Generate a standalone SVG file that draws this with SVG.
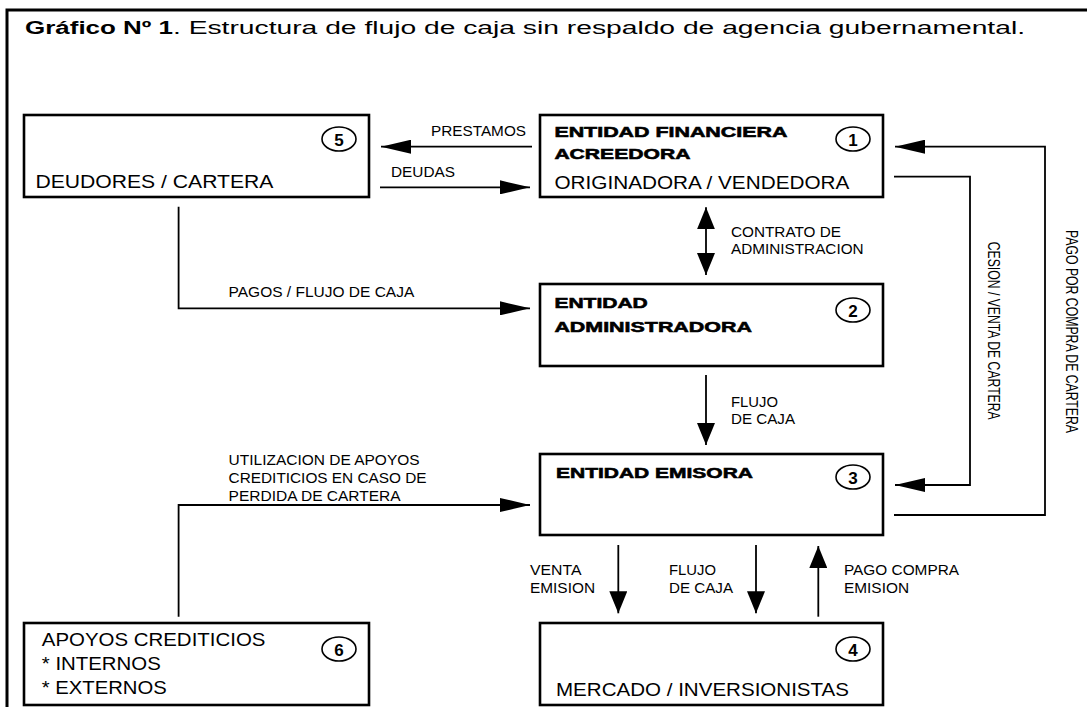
<svg xmlns="http://www.w3.org/2000/svg" width="1087" height="707" viewBox="0 0 1087 707">
<style>
text{font-family:"Liberation Sans",Arial,sans-serif;fill:#000}
.box{fill:#fff;stroke:#000;stroke-width:2.6}
.cir{fill:none;stroke:#000;stroke-width:1.6}
.num{font-size:17px;font-weight:bold;text-anchor:middle}
.big{font-size:17.5px}
.hd{font-size:15.5px;font-weight:bold;stroke:#000;stroke-width:0.6}
.lb{font-size:14.5px}
.vt{font-size:16px}
.ln{fill:none;stroke:#000;stroke-width:1.8}
.title{font-size:17.5px}
</style>
<defs>
<marker id="ah" markerUnits="userSpaceOnUse" markerWidth="30" markerHeight="14" refX="30" refY="7" orient="auto"><path d="M0,0 L30,7 L0,14 z" fill="#000"/></marker>
<marker id="av" markerUnits="userSpaceOnUse" markerWidth="22" markerHeight="18" refX="22" refY="9" orient="auto"><path d="M0,0 L22,9 L0,18 z" fill="#000"/></marker>
<marker id="avs" markerUnits="userSpaceOnUse" markerWidth="22" markerHeight="18" refX="0" refY="9" orient="auto"><path d="M22,0 L0,9 L22,18 z" fill="#000"/></marker>
</defs>
<rect width="1087" height="707" fill="#fff"/>
<path d="M7,707 V10 H1087" fill="none" stroke="#000" stroke-width="3"/>
<g id="title">
<text class="title" x="25" y="33.5"><tspan font-weight="bold" textLength="148" lengthAdjust="spacingAndGlyphs">Gráfico Nº 1</tspan></text>
<text class="title" x="173" y="33.5" textLength="852" lengthAdjust="spacingAndGlyphs">. Estructura de flujo de caja sin respaldo de agencia gubernamental.</text>
</g>
<g id="connectors">
<path class="ln" d="M532,146.7 H381" marker-end="url(#ah)"/>
<path class="ln" d="M380,187.3 H530" marker-end="url(#ah)"/>
<path class="ln" d="M178.6,206.7 V308.3 H530" marker-end="url(#ah)"/>
<path class="ln" d="M706,207.3 V275" marker-start="url(#avs)" marker-end="url(#av)"/>
<path class="ln" d="M706,375 V445" marker-end="url(#av)"/>
<path class="ln" d="M894,176.7 H970 V485 H895" marker-end="url(#ah)"/>
<path class="ln" d="M894,515 H1045 V146.7 H895" marker-end="url(#ah)"/>
<path class="ln" d="M178.6,616.7 V505 H530" marker-end="url(#ah)"/>
<path class="ln" d="M618.3,545 V613.3" marker-end="url(#av)"/>
<path class="ln" d="M756,545 V613.3" marker-end="url(#av)"/>
<path class="ln" d="M818.3,616.7 V546" marker-end="url(#av)"/>
<text class="lb" x="431" y="136" textLength="95" lengthAdjust="spacingAndGlyphs">PRESTAMOS</text>
<text class="lb" x="391" y="177.3" textLength="64" lengthAdjust="spacingAndGlyphs">DEUDAS</text>
<text class="lb" x="228.6" y="296.7" textLength="185.7" lengthAdjust="spacingAndGlyphs">PAGOS / FLUJO DE CAJA</text>
<text class="lb" x="731" y="236.7" textLength="110" lengthAdjust="spacingAndGlyphs">CONTRATO DE</text>
<text class="lb" x="731" y="253.8" textLength="132.6" lengthAdjust="spacingAndGlyphs">ADMINISTRACION</text>
<text class="lb" x="731" y="406.7" textLength="47" lengthAdjust="spacingAndGlyphs">FLUJO</text>
<text class="lb" x="731" y="424" textLength="64" lengthAdjust="spacingAndGlyphs">DE CAJA</text>
<text class="lb" x="530" y="575" textLength="51.5" lengthAdjust="spacingAndGlyphs">VENTA</text>
<text class="lb" x="530" y="593.3" textLength="65" lengthAdjust="spacingAndGlyphs">EMISION</text>
<text class="lb" x="669" y="575" textLength="47" lengthAdjust="spacingAndGlyphs">FLUJO</text>
<text class="lb" x="669" y="593.3" textLength="64" lengthAdjust="spacingAndGlyphs">DE CAJA</text>
<text class="lb" x="844" y="575" textLength="115" lengthAdjust="spacingAndGlyphs">PAGO COMPRA</text>
<text class="lb" x="844" y="593.3" textLength="65" lengthAdjust="spacingAndGlyphs">EMISION</text>
<text class="lb" x="228.6" y="465" textLength="191" lengthAdjust="spacingAndGlyphs">UTILIZACION DE APOYOS</text>
<text class="lb" x="228.6" y="483.3" textLength="198" lengthAdjust="spacingAndGlyphs">CREDITICIOS EN CASO DE</text>
<text class="lb" x="228.6" y="501" textLength="172" lengthAdjust="spacingAndGlyphs">PERDIDA DE CARTERA</text>
<text class="vt" transform="translate(988,241.7) rotate(90)" textLength="178" lengthAdjust="spacingAndGlyphs">CESION / VENTA DE CARTERA</text>
<text class="vt" transform="translate(1066,230) rotate(90)" textLength="203" lengthAdjust="spacingAndGlyphs">PAGO POR COMPRA DE CARTERA</text>
</g>
<g id="node5">
<rect class="box" x="24" y="115" width="345" height="82"/>
<ellipse class="cir" cx="339" cy="139" rx="17" ry="12"/>
<text class="num" x="339" y="145.5">5</text>
<text class="big" x="35.4" y="188.3" textLength="238" lengthAdjust="spacingAndGlyphs">DEUDORES / CARTERA</text>
</g>
<g id="node1">
<rect class="box" x="540" y="115" width="343" height="82"/>
<ellipse class="cir" cx="853" cy="139" rx="17" ry="12"/>
<text class="num" x="853" y="145.5">1</text>
<text class="hd" x="554.4" y="137.3" textLength="233" lengthAdjust="spacingAndGlyphs">ENTIDAD FINANCIERA</text>
<text class="hd" x="554.4" y="159.3" textLength="136" lengthAdjust="spacingAndGlyphs">ACREEDORA</text>
<text class="big" x="554.4" y="189.3" textLength="295" lengthAdjust="spacingAndGlyphs">ORIGINADORA / VENDEDORA</text>
</g>
<g id="node2">
<rect class="box" x="540" y="284" width="343" height="82"/>
<ellipse class="cir" cx="853" cy="310" rx="17" ry="12"/>
<text class="num" x="853" y="316.5">2</text>
<text class="hd" x="554.4" y="308.3" textLength="93.4" lengthAdjust="spacingAndGlyphs">ENTIDAD</text>
<text class="hd" x="554.4" y="331.7" textLength="197.5" lengthAdjust="spacingAndGlyphs">ADMINISTRADORA</text>
</g>
<g id="node3">
<rect class="box" x="540" y="454" width="343" height="81"/>
<ellipse class="cir" cx="853" cy="477" rx="17" ry="12"/>
<text class="num" x="853" y="483.5">3</text>
<text class="hd" x="556" y="477.7" textLength="197" lengthAdjust="spacingAndGlyphs">ENTIDAD EMISORA</text>
</g>
<g id="node4">
<rect class="box" x="540" y="623" width="343" height="82"/>
<ellipse class="cir" cx="853" cy="649" rx="17" ry="12"/>
<text class="num" x="853" y="655.5">4</text>
<text class="big" x="556" y="695.7" textLength="293" lengthAdjust="spacingAndGlyphs">MERCADO / INVERSIONISTAS</text>
</g>
<g id="node6">
<rect class="box" x="24" y="623" width="345" height="82"/>
<ellipse class="cir" cx="339" cy="649" rx="17" ry="12"/>
<text class="num" x="339" y="655.5">6</text>
<text class="big" x="41.8" y="646" textLength="223.6" lengthAdjust="spacingAndGlyphs">APOYOS CREDITICIOS</text>
<text class="big" x="41.8" y="670" textLength="119" lengthAdjust="spacingAndGlyphs">* INTERNOS</text>
<text class="big" x="41.8" y="694" textLength="125" lengthAdjust="spacingAndGlyphs">* EXTERNOS</text>
</g>
</svg>
